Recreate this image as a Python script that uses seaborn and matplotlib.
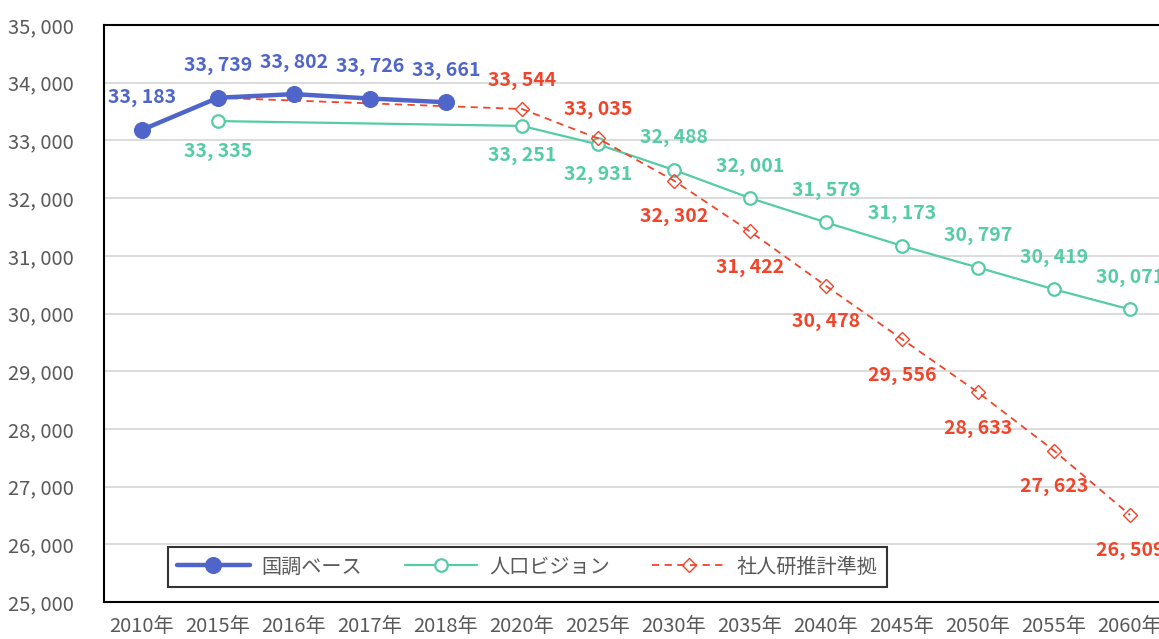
import numpy as np
import pandas as pd
import matplotlib
matplotlib.use("Agg")
import matplotlib.pyplot as plt
import seaborn as sns

categories = ["2010年", "2015年", "2016年", "2017年", "2018年", "2020年", "2025年",
              "2030年", "2035年", "2040年", "2045年", "2050年", "2055年", "2060年"]

kokucho_years = ["2010年", "2015年", "2016年", "2017年", "2018年"]
kokucho_vals = [33183, 33739, 33802, 33726, 33661]

vision_years = ["2015年", "2020年", "2025年", "2030年", "2035年", "2040年",
                "2045年", "2050年", "2055年", "2060年"]
vision_vals = [33335, 33251, 32931, 32488, 32001, 31579, 31173, 30797, 30419, 30071]

ipss_years = ["2015年", "2020年", "2025年", "2030年", "2035年", "2040年",
              "2045年", "2050年", "2055年", "2060年"]
ipss_vals = [33739, 33544, 33035, 32302, 31422, 30478, 29556, 28633, 27623, 26509]

series_names = ["国調ベース", "人口ビジョン", "社人研推計準拠"]
y_ticks = list(range(25000, 35001, 1000))

BLUE = "#4F65C9"
GREEN = "#55CCA6"
RED = "#F0452A"
GRAY = "#595959"

sns.set_theme(style="white")
plt.rcParams['font.family'] = ['Noto Sans CJK JP', 'DejaVu Sans']

def frame(years, vals):
    return pd.DataFrame({"pos": [categories.index(y) for y in years], "val": vals})

df_k = frame(kokucho_years, kokucho_vals)
df_v = frame(vision_years, vision_vals)
df_i = frame(ipss_years, ipss_vals)

fig = plt.figure(figsize=(11.59, 6.39), dpi=100)
ax = fig.add_axes([104/1159, 1 - 602/639, 1064/1159, 577/639])

sns.lineplot(data=df_v, x="pos", y="val", ax=ax, color=GREEN, linewidth=1.6,
             marker="o", markersize=9, markerfacecolor="white", markeredgecolor=GREEN,
             markeredgewidth=1.6, label=series_names[1], zorder=3)
sns.lineplot(data=df_i, x="pos", y="val", ax=ax, color=RED, linewidth=1.3, linestyle=(0, (4, 3)),
             marker="D", markersize=7, markerfacecolor="none", markeredgecolor=RED,
             markeredgewidth=1.0, label=series_names[2], zorder=4)
sns.lineplot(data=df_k, x="pos", y="val", ax=ax, color=BLUE, linewidth=3.2,
             marker="o", markersize=11.5, markerfacecolor=BLUE, markeredgecolor=BLUE,
             label=series_names[0], zorder=5)

def fmt(v):
    return f"{v:,}".replace(",", ", ")

lab_kw = dict(textcoords="offset pixels", ha="center", va="center",
              fontsize=14, fontweight="bold", zorder=6)

for _, r in df_k.iterrows():
    ax.annotate(fmt(int(r.val)), (r.pos, r.val), xytext=(0, 32), color=BLUE, **lab_kw)

for _, r in df_v.iterrows():
    dy = -30 if r.pos <= categories.index("2025年") else 32
    ax.annotate(fmt(int(r.val)), (r.pos, r.val), xytext=(0, dy), color=GREEN, **lab_kw)

for _, r in df_i.iterrows():
    if r.pos == categories.index("2015年"):
        continue
    dy = 29 if r.pos <= categories.index("2025年") else -36
    ax.annotate(fmt(int(r.val)), (r.pos, r.val), xytext=(0, dy), color=RED, **lab_kw)

ax.set_xlim(-0.5, len(categories) - 0.5)
ax.set_ylim(25000, 35000)
ax.set_xticks(range(len(categories)))
ax.set_xticklabels(categories)
ax.set_yticks(y_ticks)
ax.set_yticklabels([fmt(t) for t in y_ticks])
ax.tick_params(axis="both", colors=GRAY, labelsize=14.5, length=0)
ax.tick_params(axis="x", pad=10)
ax.tick_params(axis="y", pad=22)
ax.set_xlabel("")
ax.set_ylabel("")
ax.grid(axis="y", color="#D9D9D9", linewidth=1.3)
ax.set_axisbelow(True)
for s in ax.spines.values():
    s.set_color("black")
    s.set_linewidth(1.5)

handles, labels = ax.get_legend_handles_labels()
order = [labels.index(n) for n in series_names]
leg = ax.legend([handles[i] for i in order], [labels[i] for i in order],
                loc="center", bbox_to_anchor=(0.398, 0.0606), ncol=3, fontsize=14.5,
                frameon=True, fancybox=False, edgecolor="black", handlelength=3.6,
                columnspacing=2.1, handletextpad=0.6, borderpad=0.45, labelcolor=GRAY)
leg.get_frame().set_linewidth(1.5)

fig.savefig("out.png", dpi=100)
